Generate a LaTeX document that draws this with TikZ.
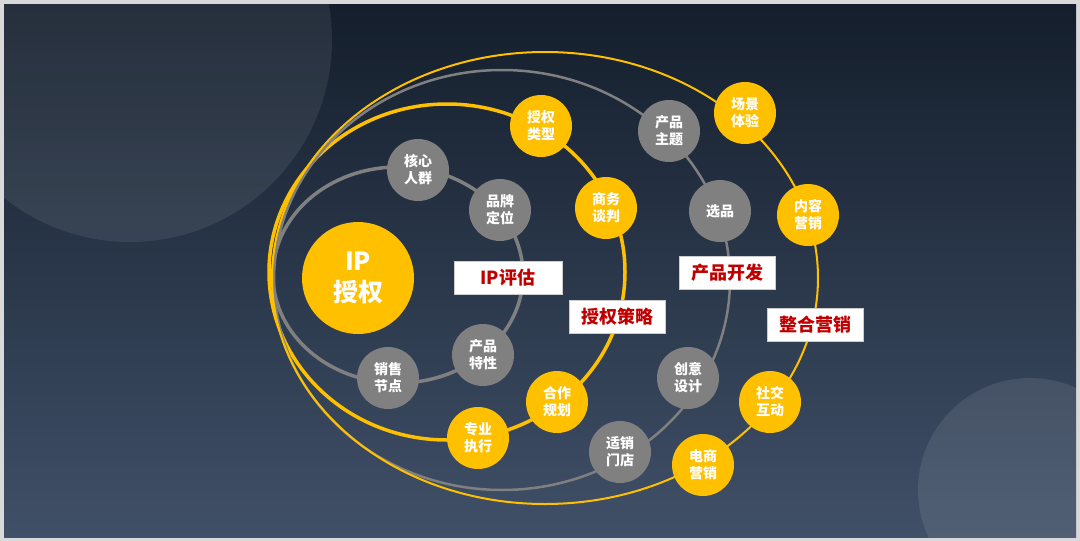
\documentclass[tikz,border=0pt]{standalone}
\usepackage{fontspec}
\setmainfont{Noto Sans CJK SC}
\usetikzlibrary{positioning}
\definecolor{bgtop}{RGB}{20,30,44}
\definecolor{bgbot}{RGB}{64,80,104}
\definecolor{ringgray}{RGB}{128,128,128}
\definecolor{ringgold}{RGB}{255,192,0}
\definecolor{labelred}{RGB}{192,0,0}
\begin{document}
\begin{tikzpicture}[x=1pt,y=-1pt]
\tikzset{
  base/.style={circle, minimum size=62pt, inner sep=0pt, align=center, text=white, font=\bfseries\fontsize{14}{17}\selectfont},
  gnode/.style={base, fill=ringgray},
  ynode/.style={base, fill=ringgold},
  tag/.style={draw=gray!40, fill=white, text=labelred, inner sep=4pt, minimum width=96pt, minimum height=33pt, font=\bfseries\fontsize{18}{20}\selectfont},
  grayring/.style={draw=ringgray, line width=3.5pt},
  goldring/.style={draw=ringgold, line width=3.5pt},
}

% background
\fill[gray!30] (0,0) rectangle (1080,541);
\shade[top color=bgtop, bottom color=bgbot] (4,4) rectangle (1076,537);
\begin{scope}
  \clip (4,4) rectangle (1076,537);
  \fill[white, opacity=0.08] (130,40) circle (202);
  \fill[white, opacity=0.09] (1030,490) circle (112);
\end{scope}

% rings
\draw[grayring] (398,275) ellipse (125 and 108);
\draw[goldring] (447,272) ellipse (178 and 168);
\draw[grayring, line width=2.5pt] (502,280) ellipse (228 and 210);
\draw[goldring, line width=2pt] (545,278) ellipse (273 and 226);

% centre
\node[ynode, minimum size=112pt, font=\bfseries\fontsize{25}{31}\selectfont] (ip) at (358,278) {IP\\授权};

% ring 1
\node[gnode] (hxrq) at (418,170) {核心\\人群};
\node[gnode] (ppdw) at (500,210) {品牌\\定位};
\node[gnode] (cptx) at (483,355) {产品\\特性};
\node[gnode] (xsjd) at (388,378) {销售\\节点};
\node[tag, minimum width=108pt] (ippg) at (508,278) {IP评估};

% ring 2
\node[ynode] (sqlx) at (541,126) {授权\\类型};
\node[ynode] (swtp) at (606,208) {商务\\谈判};
\node[ynode] (hzgh) at (557,402) {合作\\规划};
\node[ynode] (zyzx) at (478,438) {专业\\执行};
\node[tag] (sqcl) at (617,317) {授权策略};

% ring 3
\node[gnode] (cpzt) at (669,131) {产品\\主题};
\node[gnode] (xp) at (720,211) {选品};
\node[gnode] (cysj) at (688,378) {创意\\设计};
\node[gnode] (sxmd) at (620,452) {适销\\门店};
\node[tag] (cpkf) at (727,273) {产品开发};

% ring 4
\node[ynode] (cjty) at (745,113) {场景\\体验};
\node[ynode] (nryx) at (808,215) {内容\\营销};
\node[ynode] (sjhd) at (770,402) {社交\\互动};
\node[ynode] (dsyx) at (703,465) {电商\\营销};
\node[tag] (zhyx) at (815,325) {整合营销};

\end{tikzpicture}
\end{document}
